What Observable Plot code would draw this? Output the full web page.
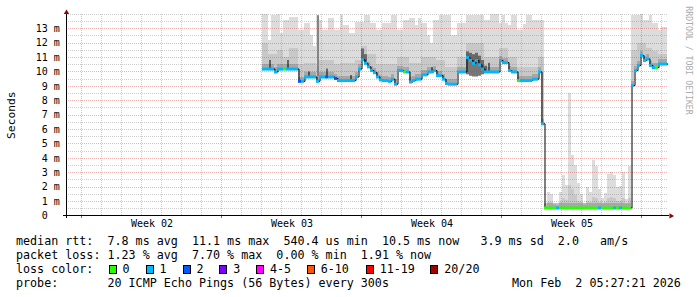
<!DOCTYPE html>
<html><head><meta charset="utf-8">
<script src="https://cdn.jsdelivr.net/npm/d3@7"></script>
<script src="https://cdn.jsdelivr.net/npm/@observablehq/plot@0.6"></script>
<style>
html,body{margin:0;padding:0;background:#fff;}
#wrap{position:relative;width:697px;height:297px;overflow:hidden;font-family:"DejaVu Sans Mono",monospace;background:#fff;}
#wrap svg{position:absolute;left:0;top:0;}
.leg{position:absolute;font-size:11.7px;line-height:14.1px;white-space:pre;color:#000;}
.box{position:absolute;width:6px;height:7px;border:1px solid #000;}
</style></head><body><div id="wrap"></div>
<script>
// ---- time frame ----
const endTime = new Date("2026-02-02T05:27:21Z");
const startTime = new Date(+endTime - 30 * 86400e3);
const sampleStart = new Date("2026-01-13T00:39:21Z");
const sampleStepMs = 12960e3;

// ---- median RTT (ms) per sample ----
const median = [
 10.2,10.2,10.2,10.2,10.0,10.2,10.2,10.2,10.2,10.2,10.2,10.2,
 9.35,9.35,9.65,9.65,9.65,9.65,9.35,9.65,9.65,9.65,9.65,9.65,
 9.55,9.4,9.4,9.4,9.4,9.4,9.4,9.65,10.2,10.85,10.6,10.35,
 10.1,9.95,9.65,9.45,9.4,9.4,9.35,9.5,9.15,10.1,10.1,10.0,
 10.0,9.3,9.4,9.5,9.5,9.8,9.8,10.0,10.0,10.1,9.75,9.75,
 9.5,9.2,9.15,9.15,9.15,10.0,10.0,10.0,11.0,10.8,10.6,10.8,
 10.5,10.2,10.0,10.0,10.0,10.0,10.0,10.8,10.65,10.65,10.1,10.0,
 10.0,9.4,9.4,9.4,9.4,9.4,9.5,9.5,10.0,6.4,
 0.55,0.55,0.55,0.55,0.55,0.55,0.55,0.55,0.55,0.55,
 0.55,0.55,0.55,0.55,0.55,0.55,0.55,0.55,0.55,0.55,
 0.55,0.55,0.55,0.55,0.55,0.55,0.55,0.55,0.55,
 9.06,10.1,10.45,11.15,10.8,10.9,10.45,10.3,10.3,10.55,10.55,10.55
];
// ---- lost pings (of 20) per sample ----
const loss = [
 1,1,1,1,1,1,1,0,1,1,1,1,
 2,1,1,1,1,1,1,1,1,2,1,1,
 2,1,1,1,1,1,1,1,1,1,1,1,
 1,1,1,1,1,1,1,1,1,1,1,0,
 1,1,1,1,1,1,1,1,1,1,1,1,
 1,1,1,1,1,1,1,1,1,1,1,1,
 1,1,1,1,1,1,1,1,1,1,1,1,
 1,0,1,1,1,1,1,1,1,1,
 0,0,0,0,1,0,0,0,0,0,
 0,0,0,0,0,0,0,0,1,0,
 0,0,0,1,0,1,0,0,0,
 1,1,1,1,1,1,1,1,0,1,1,1
];
// ---- highest ping (ms) per sample: top of the smoke ----
const hiPing = [
 14.0,14.0,12.2,13.9,13.9,14.0,12.7,13.6,13.6,13.8,13.8,13.8,
 12.9,12.9,13.35,13.35,12.5,11.8,13.9,13.6,12.9,12.9,13.7,13.7,
 12.9,12.9,13.9,13.2,13.2,12.7,12.7,13.45,13.45,13.45,13.9,13.9,
 13.35,13.35,12.9,12.9,13.4,13.4,13.35,13.9,13.9,12.9,12.9,13.6,
 13.6,13.7,13.7,13.2,13.7,13.35,13.35,12.5,12.0,13.6,13.6,13.9,
 13.9,13.9,13.9,12.5,12.5,13.35,13.35,13.35,13.9,13.9,13.9,13.9,
 13.9,13.9,13.6,13.6,14.0,14.0,14.0,13.35,13.9,13.35,13.25,13.9,
 13.9,12.9,12.9,13.3,13.9,13.9,13.6,13.6,13.6,13.6,
 0.6,1.65,1.5,0.8,0.7,1.65,2.8,2.1,8.5,4.2,
 3.5,2.25,1.5,0.8,2.0,1.65,3.85,3.4,1.8,1.2,
 1.55,2.9,3.0,2.8,2.0,2.05,3.0,1.15,3.45,
 13.9,13.9,13.9,14.0,13.6,13.6,13.9,13.35,13.35,12.9,13.1,13.1
];
// ---- upper quartile ping (ms) per sample: denser smoke ----
const midPing = [
 12.0,12.0,11.2,11.2,11.2,11.5,11.5,11.0,11.0,11.6,11.6,11.6,
 10.5,10.5,10.6,10.6,10.6,10.6,10.4,10.8,10.8,10.8,10.8,10.8,
 10.5,10.5,10.6,10.6,10.6,10.6,10.6,10.8,10.8,11.8,11.8,11.2,
 11.2,11.2,10.5,10.5,10.5,10.5,10.5,10.5,10.5,11.0,11.0,11.0,
 11.0,10.6,10.6,10.6,10.6,11.0,11.0,11.0,11.0,11.0,10.8,10.8,
 10.8,10.3,10.3,10.3,10.3,11.0,11.0,11.0,12.0,12.0,12.0,12.0,
 12.0,12.0,11.0,11.0,11.0,11.0,11.0,11.6,11.6,11.6,11.0,11.0,
 11.0,10.3,10.3,10.3,10.3,10.3,10.3,10.3,11.0,11.0,
 0.6,0.9,0.9,0.7,0.65,0.9,1.2,1.1,2.1,1.8,
 1.4,1.0,0.9,0.7,1.0,0.9,1.3,1.2,0.9,0.8,
 0.9,1.2,1.3,1.2,1.0,1.0,1.2,0.8,1.2,
 11.5,11.5,12.0,12.0,12.0,11.6,11.6,11.4,11.4,11.2,11.2,11.2
];
// ---- dense smoke (most pings) ----
const denseIdx = [33,34,68,69,70,71,72,73,74];
const denseLo  = [10.85,10.6,9.8,9.7,9.65,9.65,9.7,9.8,9.9];
const denseHi  = [11.6,11.2,11.4,11.3,11.2,11.3,11.1,10.8,10.4];
// ---- single-sample smoke streak ----
const streakIdx = [18];
const streakLo = [9.65];
const streakHi = [13.9];
// ---- single-sample median spikes ----
const spikeIdx = [2,8,15,21,29,56,75];
const spikeTop = [10.8,10.8,10.0,10.2,9.75,10.3,10.6];

// ---- legend / ticks ----
const lossLabels = ["0","1","2","3","4-5","6-10","11-19","20/20"];
const lossColors = ["#26ff00","#00b8ff","#0059ff","#7e00ff","#ff00ff","#ff5500","#ff0000","#a00000"];
const yTicks = [0,1,2,3,4,5,6,7,8,9,10,11,12,13];
const yTickLabels = ["0\u00a0\u00a0","1\u00a0m","2\u00a0m","3\u00a0m","4\u00a0m","5\u00a0m","6\u00a0m","7\u00a0m","8\u00a0m","9\u00a0m","10\u00a0m","11\u00a0m","12\u00a0m","13\u00a0m"];
const weekTicks = ["2026-01-07T12:00:00Z","2026-01-14T12:00:00Z","2026-01-21T12:00:00Z","2026-01-28T12:00:00Z"].map(s => new Date(s));
const weekLabels = ["Week 02","Week 03","Week 04","Week 05"];
const statsLines = [
 "median rtt:  7.8 ms avg  11.1 ms max  540.4 us min  10.5 ms now   3.9 ms sd  2.0   am/s",
 "packet loss: 1.23 % avg  7.70 % max  0.00 % min  1.91 % now"
];
const lossTitle = "loss color:";
const probeText = "probe:       20 ICMP Echo Pings (56 Bytes) every 300s";
const dateText = "Mon Feb  2 05:27:21 2026";
const yLabel = "Seconds";
const watermark = "RRDTOOL / TOBI OETIKER";

// ---- layout (styles only) ----
const legendBoxX = [108.5,145.5,182.5,219.3,256,306.7,365.7,430.3];
const pxMs = 4320e3;

function lossCat(n){ return n <= 3 ? lossLabels[n] : n <= 5 ? "4-5" : n <= 10 ? "6-10" : n <= 19 ? "11-19" : "20/20"; }
const tOf = i => new Date(+sampleStart + i * sampleStepMs);
const tMid = i => new Date(+sampleStart + (i + 0.5) * sampleStepMs);

const samples = median.map((m, i) => ({
  t: tOf(i), t2: tOf(i + 1), median: m, hi: hiPing[i], mid: midPing[i], loss: lossCat(loss[i])
}));
const lineData = samples.map(d => ({t: d.t, median: d.median}))
  .concat([{t: samples[samples.length - 1].t2, median: samples[samples.length - 1].median}]);
const dense = denseIdx.map((i, k) => ({i, lo: denseLo[k], hi: denseHi[k]}));
const streaks = streakIdx.map((i, k) => ({i, lo: streakLo[k], hi: streakHi[k]}));
const spikes = spikeIdx.map((i, k) => ({i, top: spikeTop[k]}));

const dayLines = d3.utcDay.range(startTime, endTime).filter(d => d.getUTCDay() !== 0);
const weekLines = d3.utcSunday.range(startTime, endTime);
const minorY = d3.range(1, 29).map(k => k / 2).filter(v => v % 1 !== 0).concat([14]);
const majorY = yTicks.filter(v => v > 0);
const gridX2 = new Date(+endTime + 2 * pxMs);

const minorCol = "rgba(120,120,120,0.36)";
const majorCol = "rgba(215,50,50,0.38)";

const chart = Plot.plot({
  width: 697, height: 232,
  marginLeft: 66, marginRight: 31, marginTop: 13.9, marginBottom: 16.6,
  x: {type: "utc", domain: [startTime, endTime], axis: null},
  y: {domain: [0, 14], axis: null},
  color: {domain: lossLabels, range: lossColors},
  style: {fontFamily: "DejaVu Sans Mono", fontSize: "10px", background: "white", color: "black", overflow: "visible"},
  marks: [
    // smoke
    Plot.rect(samples, {x1: "t", x2: "t2", y1: "median", y2: "hi", fill: "#dcdcdc", shapeRendering: "crispEdges"}),
    Plot.rect(samples, {x1: "t", x2: "t2", y1: "median", y2: "mid", fill: "#c8c8c8", shapeRendering: "crispEdges"}),
    Plot.rect(samples, {x1: "t", x2: "t2", y1: "median", y2: d => d.median + 0.3, fill: "#8c8c8c", fillOpacity: 0.55, shapeRendering: "crispEdges"}),
    Plot.rect(dense, {x1: d => tOf(d.i), x2: d => tOf(d.i + 1), y1: "lo", y2: "hi", fill: "#4f4f4f", fillOpacity: 0.78}),
    Plot.ruleX(streaks, {x: d => tMid(d.i), y1: "lo", y2: "hi", stroke: "#6a6a6a", strokeWidth: 1.5}),
    // grid
    Plot.ruleY(minorY, {y: d => d, x1: () => startTime, x2: () => gridX2, stroke: minorCol, strokeDasharray: "1,1", shapeRendering: "crispEdges"}),
    Plot.ruleX(dayLines, {x: d => d, stroke: minorCol, strokeDasharray: "1,1", shapeRendering: "crispEdges"}),
    Plot.ruleY(majorY, {y: d => d, x1: () => startTime, x2: () => gridX2, stroke: majorCol, strokeDasharray: "1,1", shapeRendering: "crispEdges"}),
    Plot.ruleX(weekLines, {x: d => d, stroke: majorCol, strokeDasharray: "1,1", shapeRendering: "crispEdges"}),
    Plot.ruleX(weekLines, {x: d => d, y1: 0, y2: -0.21, stroke: "rgba(190,40,40,0.8)", shapeRendering: "crispEdges"}),
    // median
    Plot.line(lineData, {x: "t", y: "median", curve: "step-after", stroke: "black", strokeWidth: 1, dx: 0.5}),
    Plot.ruleX(spikes, {x: d => tMid(d.i), y1: d => median[d.i], y2: "top", stroke: "black", strokeWidth: 1}),
    Plot.ruleY(samples, {y: "median", x1: "t", x2: "t2", stroke: "loss", strokeWidth: 3}),
    // axes
    Plot.ruleY([0], {y: d => d, x1: () => new Date(+startTime - 3 * pxMs), x2: () => new Date(+endTime + 3 * pxMs), stroke: "black", shapeRendering: "crispEdges"}),
    Plot.ruleX([startTime], {x: d => d, y1: -0.21, y2: 14.13, stroke: "black", shapeRendering: "crispEdges"}),
    Plot.dot([0], {x: () => startTime, y: () => 14.13, symbol: "triangle", r: 2, fill: "#900000", stroke: "none"}),
    Plot.dot([0], {x: () => new Date(+endTime + 4.5 * pxMs), y: () => 0, symbol: "triangle", r: 2, rotate: 90, fill: "#900000", stroke: "none"}),
    Plot.axisY({ticks: yTicks, tickFormat: d => yTickLabels[yTicks.indexOf(d)], tickSize: 0, tickPadding: 6.7, label: null, fontSize: 10}),
    Plot.axisX({ticks: weekTicks, tickFormat: d => weekLabels[weekTicks.findIndex(w => +w === +d)], tickSize: 0, tickPadding: 4.4, label: null, fontSize: 10}),
    Plot.text([yLabel], {text: d => d, frameAnchor: "left", dx: -55.5, rotate: -90, textAnchor: "middle", lineAnchor: "middle", fontSize: 11.3, fill: "black"}),
    Plot.text([watermark], {text: d => d, frameAnchor: "top-right", dx: 22, dy: 46.1, rotate: 90, textAnchor: "middle", lineAnchor: "middle", fontSize: 8.2, fill: "#ababab"})
  ]
});

const wrap = document.getElementById("wrap");
wrap.appendChild(chart);

// ---- legend below the SVG ----
function addDiv(cls, text, left, top, extra){
  const el = document.createElement("div");
  el.className = cls;
  if (text != null) el.textContent = text;
  el.style.left = left + "px";
  el.style.top = top + "px";
  if (extra) Object.assign(el.style, extra);
  wrap.appendChild(el);
  return el;
}
const lineTops = [233.6, 247.7, 261.8, 275.9];
addDiv("leg", statsLines[0], 16, lineTops[0]);
addDiv("leg", statsLines[1], 16, lineTops[1]);
addDiv("leg", lossTitle, 16, lineTops[2]);
lossLabels.forEach((lab, k) => {
  addDiv("box", null, legendBoxX[k], 264.5, {background: lossColors[k]});
  addDiv("leg", lab, legendBoxX[k] + 14, lineTops[2]);
});
addDiv("leg", probeText, 16, lineTops[3]);
addDiv("leg", dateText, 512, lineTops[3]);
</script>
</body></html>
